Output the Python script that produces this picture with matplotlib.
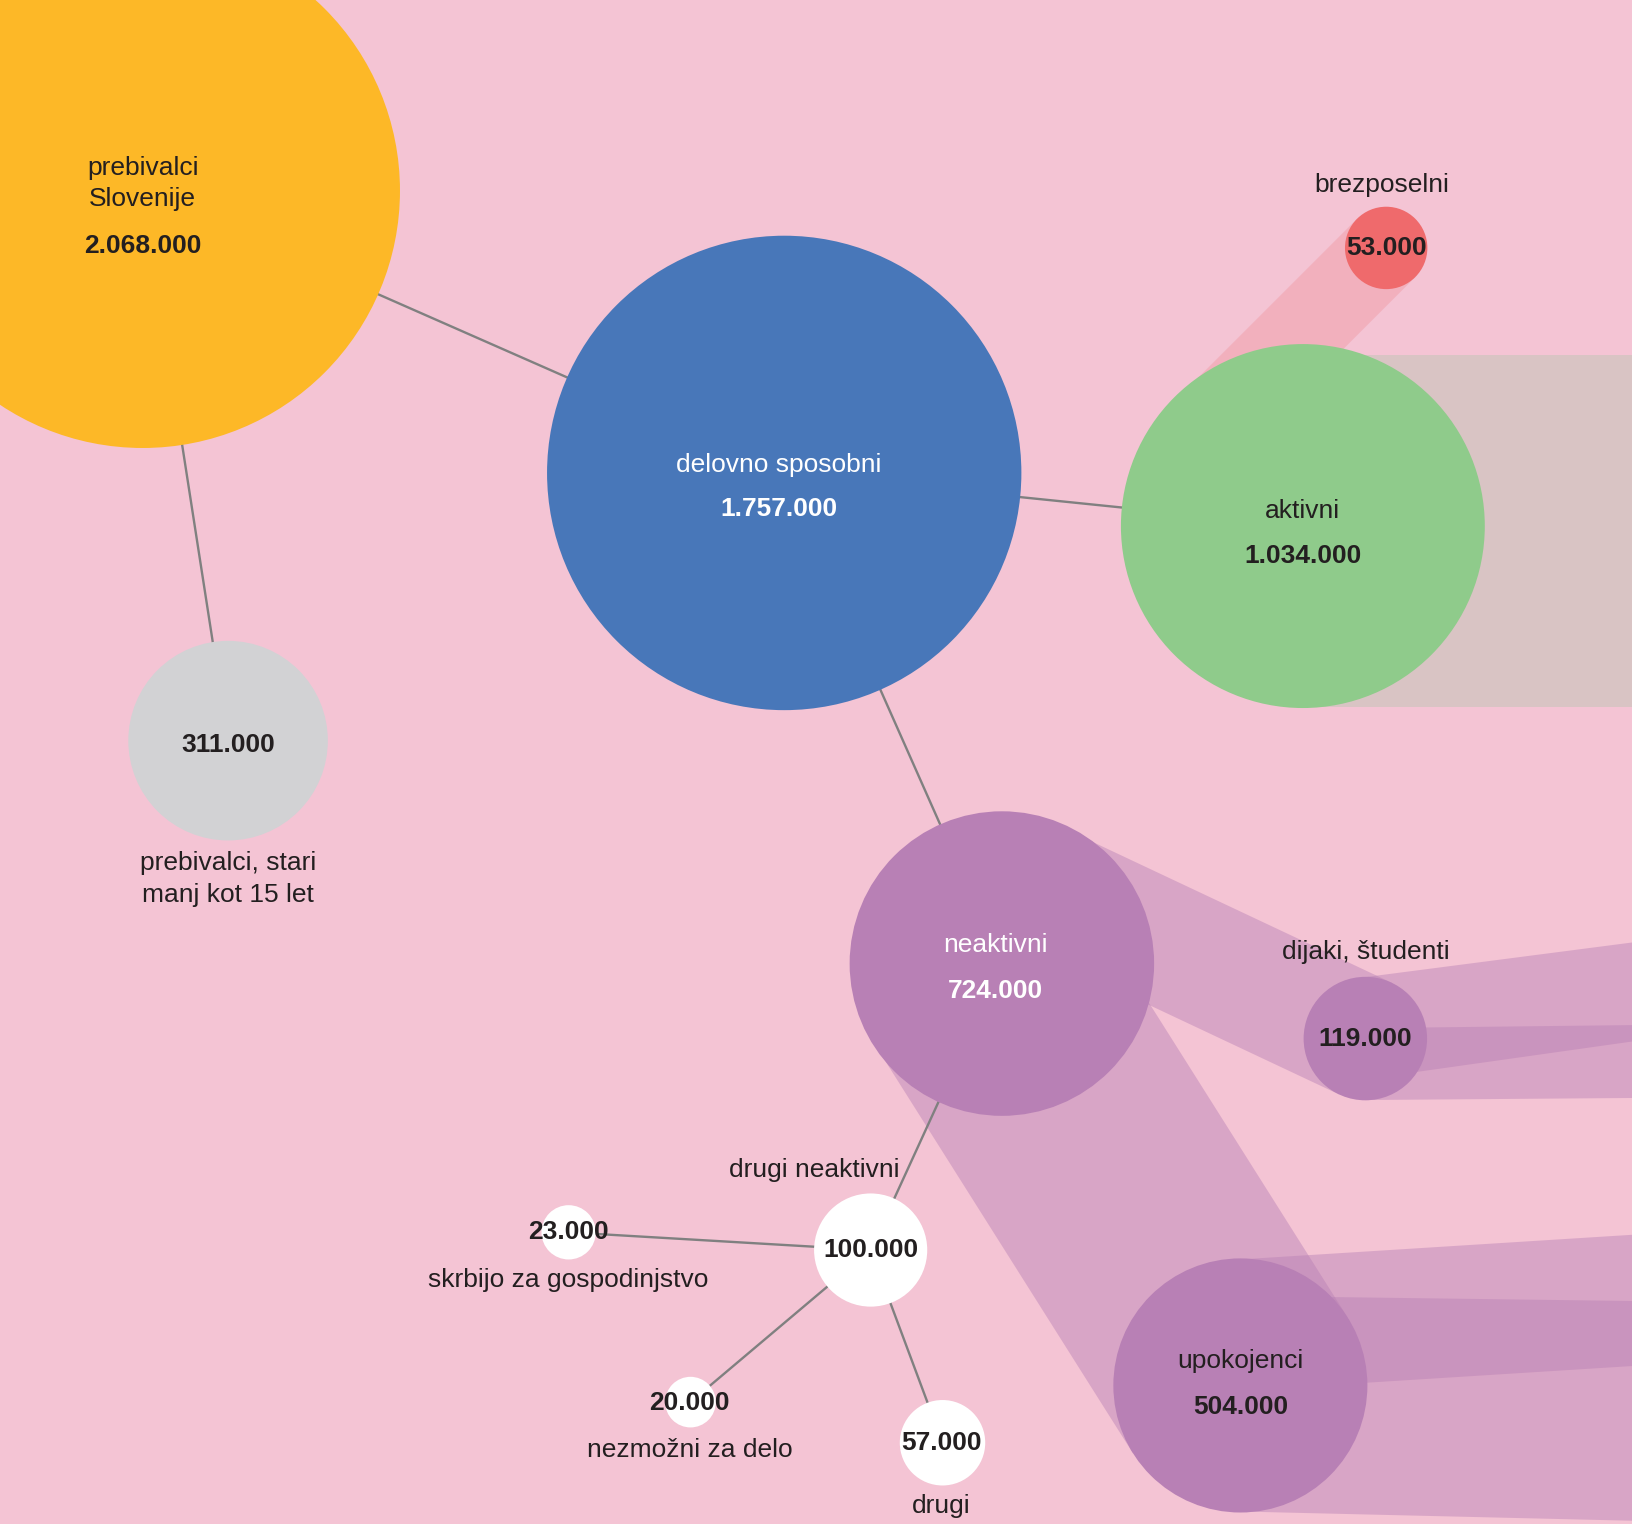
import numpy as np
import matplotlib.pyplot as plt
from matplotlib.patches import Circle, Polygon

plt.rcParams['font.family'] = ['Liberation Sans', 'DejaVu Sans']

# data
names = ['prebivalci', 'delovno', 'aktivni', 'brezposelni', 'mladi',
         'neaktivni', 'dijaki', 'upokojenci', 'drugi_neakt',
         'gospodinjstvo', 'nezmozni', 'drugi']
values = [2068000, 1757000, 1034000, 53000, 311000,
          724000, 119000, 504000, 100000,
          23000, 20000, 57000]
value_labels = ['2.068.000', '1.757.000', '1.034.000', '53.000', '311.000',
                '724.000', '119.000', '504.000', '100.000',
                '23.000', '20.000', '57.000']
name_labels = ['prebivalci\nSlovenije', 'delovno sposobni', 'aktivni', 'brezposelni',
               'prebivalci, stari\nmanj kot 15 let', 'neaktivni', 'dijaki, študenti',
               'upokojenci', 'drugi neaktivni', 'skrbijo za gospodinjstvo',
               'nezmožni za delo', 'drugi']
links = [('prebivalci', 'delovno'), ('prebivalci', 'mladi'), ('delovno', 'aktivni'),
         ('delovno', 'neaktivni'), ('neaktivni', 'drugi_neakt'),
         ('drugi_neakt', 'gospodinjstvo'), ('drugi_neakt', 'nezmozni'),
         ('drugi_neakt', 'drugi')]

# layout (px in a 1568 x 1463 canvas)
W, H = 1568, 1463
pos = {'prebivalci': (137, 183), 'delovno': (753, 454), 'aktivni': (1251, 505),
       'brezposelni': (1331, 238), 'mladi': (219, 711), 'neaktivni': (962, 925),
       'dijaki': (1311, 997), 'upokojenci': (1191, 1330), 'drugi_neakt': (836, 1200),
       'gospodinjstvo': (546, 1183), 'nezmozni': (663, 1346), 'drugi': (905, 1385)}
colors = {'prebivalci': '#FDB827', 'delovno': '#4877B9', 'aktivni': '#8FCB8B',
          'brezposelni': '#EF6A6C', 'mladi': '#D2D2D4', 'neaktivni': '#B880B5',
          'dijaki': '#B880B5', 'upokojenci': '#B880B5', 'drugi_neakt': 'white',
          'gospodinjstvo': 'white', 'nezmozni': 'white', 'drugi': 'white'}
# (name pos, value pos, text colour)
label_pos = {'prebivalci': ((137, 176), (137, 236), '#231F20'),
             'delovno': ((748, 446), (748, 489), 'white'),
             'aktivni': ((1251, 491), (1251, 534), '#231F20'),
             'brezposelni': ((1327, 178), (1331, 238), '#231F20'),
             'mladi': ((219, 844), (219, 715), '#231F20'),
             'neaktivni': ((956, 907), (956, 951), 'white'),
             'dijaki': ((1311, 914), (1311, 997), '#231F20'),
             'upokojenci': ((1191, 1307), (1191, 1351), '#231F20'),
             'drugi_neakt': ((782, 1123), (836, 1200), '#231F20'),
             'gospodinjstvo': ((546, 1229), (546, 1183), '#231F20'),
             'nezmozni': ((662, 1392), (662, 1347), '#231F20'),
             'drugi': ((904, 1446), (904, 1385), '#231F20')}

k = 0.1718  # px per sqrt(value)
radius = {n: k * np.sqrt(v) for n, v in zip(names, values)}

bg = '#F4C4D4'
fig = plt.figure(figsize=(16.33, 15.24), dpi=100)
fig.patch.set_facecolor(bg)
ax = fig.add_axes([0, 0, 1, 1])
ax.set_facecolor(bg)
ax.set_xlim(0, W)
ax.set_ylim(H, 0)
ax.axis('off')


def band(p0, p1, w, color, alpha=1.0):
    p0, p1 = np.array(p0, float), np.array(p1, float)
    d = (p1 - p0) / np.linalg.norm(p1 - p0)
    n = np.array([-d[1], d[0]]) * w / 2
    pts = [p0 + n, p1 + n, p1 - n, p0 - n]
    ax.add_patch(Polygon(pts, closed=True, fc=color, ec='none', alpha=alpha, zorder=1))


def band_right(node, y_node, y_right, color, alpha=1.0):
    x0 = pos[node][0]
    pts = [(x0, y_node[0]), (W + 5, y_right[0]), (W + 5, y_right[1]), (x0, y_node[1])]
    ax.add_patch(Polygon(pts, closed=True, fc=color, ec='none', alpha=alpha, zorder=1))


purple = '#B880B5'
# flows
band_right('aktivni', (341, 679), (341, 679), '#D9C4C4')
band(pos['brezposelni'], (1150, 419), 2 * radius['brezposelni'], '#F2B0BD')
band((951, 950), pos['upokojenci'], 2 * radius['upokojenci'], purple, 0.45)
band((1020, 860), pos['dijaki'], 2 * radius['dijaki'], purple, 0.45)
band_right('dijaki', (938, 1036), (904, 999), purple, 0.45)
band_right('dijaki', (987, 1056), (984, 1054), purple, 0.45)
band_right('upokojenci', (1209, 1335), (1185, 1311), purple, 0.45)
band_right('upokojenci', (1244, 1451), (1249, 1460), purple, 0.45)

# links
for a, b in links:
    ax.plot([pos[a][0], pos[b][0]], [pos[a][1], pos[b][1]],
            color='#808080', lw=1.7, zorder=2, solid_capstyle='butt')

# nodes
for n in names:
    ax.add_patch(Circle(pos[n], radius[n], fc=colors[n], ec='none', zorder=3))

fs = 19
for n, nl, vl in zip(names, name_labels, value_labels):
    (nx, ny), (vx, vy), c = label_pos[n]
    ax.text(nx, ny, nl, ha='center', va='center', fontsize=fs, color=c,
            zorder=4, linespacing=1.4)
    ax.text(vx, vy, vl, ha='center', va='center', fontsize=fs, color=c,
            fontweight='bold', zorder=4)

fig.savefig('out.png', dpi=100, facecolor=bg)
